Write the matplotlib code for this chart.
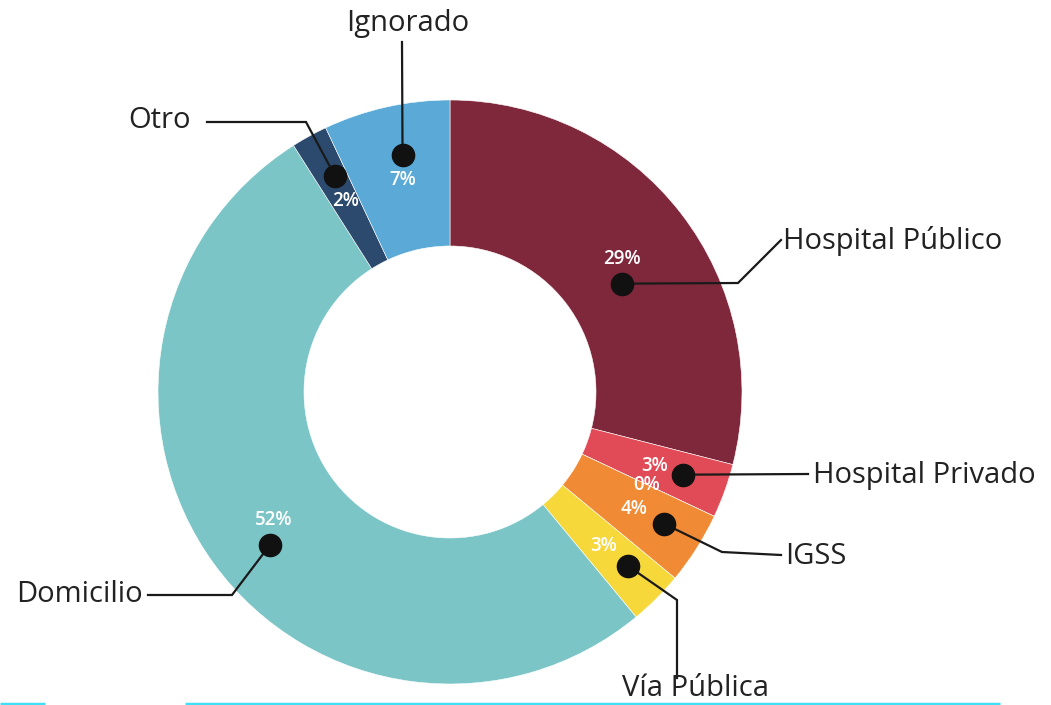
import matplotlib as mpl

mpl.use("Agg")

import matplotlib.pyplot as plt

W, H = 1051, 705

# data
categories = ["Hospital Público", "Hospital Privado", "", "IGSS", "Vía Pública", "Domicilio", "Otro", "Ignorado"]
shares = [29, 3, 0, 4, 3, 52, 2, 7]
colors = ["#80283b", "#e14b57", "#e8704a", "#f08a34", "#f7d83a", "#7cc5c6", "#2b4a6e", "#5aa9d6"]

# layout (pixel coords, y measured downwards from the top)
CENTER = (450, 392)
R_OUT, R_IN = 292, 146
LEADERS = {
    "Hospital Público": dict(dot=(0, 25), path=[(738, 283), (781, 240)], text=(783, 241), ha="left"),
    "Hospital Privado": dict(dot=(28, 9), path=[(808, 474)], text=(813, 475), ha="left"),
    "IGSS": dict(dot=(30, 15), path=[(722, 552), (781, 555)], text=(785, 556), ha="left"),
    "Vía Pública": dict(dot=(24, 20), path=[(677, 600), (677, 678)], text=(695, 689), ha="center"),
    "Domicilio": dict(dot=(-4, 25), path=[(232, 595), (148, 595)], text=(143, 594), ha="right"),
    "Otro": dict(dot=(-10, -25), path=[(306, 122), (207, 122)], text=(191, 121), ha="right"),
    "Ignorado": dict(dot=(0, -25), path=[(402, 42)], text=(408, 24), ha="center"),
}


def px(x, y):
    return x, H - y


plt.rcParams["font.family"] = ["Open Sans", "DejaVu Sans"]
fig = plt.figure(figsize=(W / 100, H / 100), dpi=100)
ax = fig.add_axes([0, 0, 1, 1])

wedges, _, autotexts = ax.pie(
    shares,
    colors=colors,
    startangle=90,
    counterclock=False,
    radius=R_OUT,
    center=px(*CENTER),
    autopct=lambda p: f"{p:.0f}%",
    pctdistance=0.745,
    wedgeprops=dict(width=R_OUT - R_IN, edgecolor="white", linewidth=0.4),
    textprops=dict(color="white", fontsize=13.5, fontweight="semibold"),
)

for name, txt in zip(categories, autotexts):
    if name not in LEADERS:
        continue
    spec = LEADERS[name]
    tx, ty = txt.get_position()
    dot = (tx + spec["dot"][0], ty - spec["dot"][1])
    pts = [dot] + [px(*p) for p in spec["path"]]
    ax.plot([p[0] for p in pts], [p[1] for p in pts], color="#1a1a1a", linewidth=1.6,
            solid_joinstyle="miter", zorder=4)
    ax.plot(*dot, "o", color="#111111", markersize=16, zorder=5)
    ax.text(*px(*spec["text"]), name, ha=spec["ha"], va="center", fontsize=21, color="#222222", zorder=6)

# thin cyan strip along the bottom edge
ax.plot([185, 1000], [1.5, 1.5], color="#3fe0f6", linewidth=2.5, solid_capstyle="butt", zorder=1)
ax.plot([0, 45], [1.5, 1.5], color="#3fe0f6", linewidth=2.5, solid_capstyle="butt", zorder=1)

ax.set_xlim(0, W)
ax.set_ylim(0, H)
ax.set_aspect("equal")
ax.axis("off")
fig.savefig("out.png", dpi=100, facecolor="white")
